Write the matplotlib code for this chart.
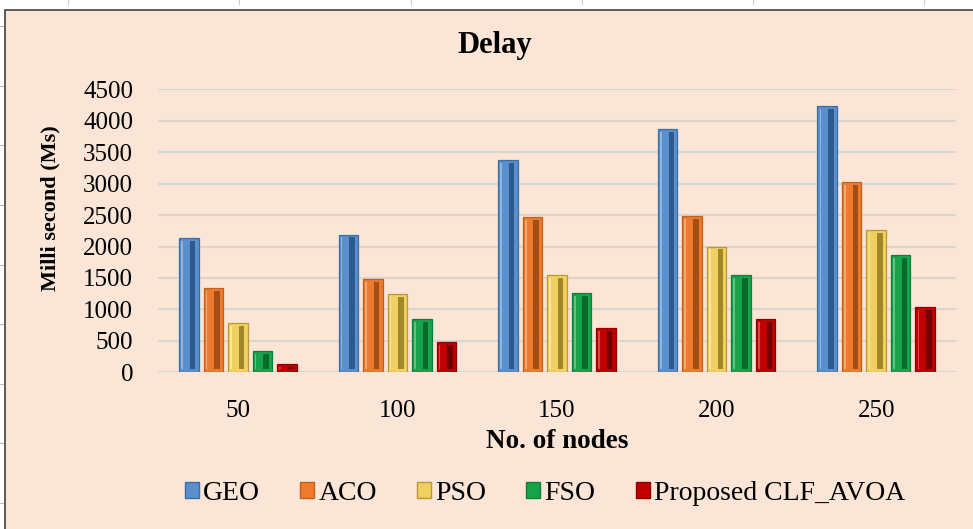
import matplotlib
matplotlib.use("Agg")
import matplotlib.pyplot as plt
from matplotlib.patches import Rectangle, Patch
import numpy as np

categories = ["50", "100", "150", "200", "250"]
series_names = ["GEO", "ACO", "PSO", "FSO", "Proposed CLF_AVOA"]
geo = [2140, 2190, 3380, 3870, 4230]
aco = [1340, 1480, 2470, 2490, 3030]
pso = [780, 1250, 1540, 2000, 2260]
fso = [340, 840, 1260, 1540, 1860]
proposed = [130, 480, 700, 840, 1040]
yticks = [0, 500, 1000, 1500, 2000, 2500, 3000, 3500, 4000, 4500]

series = [geo, aco, pso, fso, proposed]
main_colors = ["#5A8FCB", "#EC7B2E", "#F0D060", "#17A34A", "#C00000"]
dark_colors = ["#2C5A8E", "#A24E16", "#A08828", "#0A6A2C", "#700000"]
light_colors = ["#8DB4E2", "#F5A86E", "#F8E69A", "#5CC583", "#E04040"]
edge_colors = ["#3A6EA8", "#C0601F", "#B89A30", "#0E7F38", "#900000"]

plt.rcParams["font.family"] = ["Liberation Serif", "DejaVu Serif"]
peach = "#FBE5D6"

fig = plt.figure(figsize=(9.73, 5.29), dpi=100, facecolor="white")
bg = Rectangle((5 / 973, -0.01), 1.0, 1 - 10 / 529 + 0.01,
               transform=fig.transFigure, facecolor=peach,
               edgecolor="#404040", linewidth=1.2, zorder=-10)
fig.add_artist(bg)
for yy in np.linspace(0.05, 0.95, 9):
    fig.add_artist(plt.Line2D([0, 3 / 973], [yy, yy], transform=fig.transFigure,
                              color="#bbbbbb", linewidth=0.8, zorder=-5))
for xx in np.linspace(0.07, 0.95, 6):
    fig.add_artist(plt.Line2D([xx, xx], [1 - 4 / 529, 1], transform=fig.transFigure,
                              color="#cccccc", linewidth=0.8, zorder=-5))

ax = fig.add_axes([158 / 973, 1 - 372.3 / 529, (956 - 158) / 973, (372.3 - 89.3) / 529])
ax.set_zorder(5)
ax.set_facecolor("none")

x = np.arange(len(categories))
pitch = 0.1535
w = 0.122
b = 45
for i, (vals, mc, dc, lc, ec) in enumerate(zip(series, main_colors, dark_colors, light_colors, edge_colors)):
    pos = x + (i - 2) * pitch
    vals = np.array(vals, dtype=float)
    ax.bar(pos, vals, width=w, color=mc, edgecolor=ec, linewidth=0.9, zorder=3,
           label=series_names[i])
    inner_h = np.maximum(vals - 2 * b, 0)
    ax.bar(pos + w * 0.19, inner_h, bottom=b, width=w * 0.28, color=dc, linewidth=0, zorder=4)
    ax.bar(pos - w * 0.35, inner_h, bottom=b, width=w * 0.09, color=lc, linewidth=0, zorder=4)

ax.set_xlim(-0.5, 4.5)
ax.set_ylim(0, 4500)
ax.set_yticks(yticks)
ax.set_yticklabels([str(t) for t in yticks], fontsize=18)
ax.set_xticks(x)
ax.set_xticklabels(categories, fontsize=18)
ax.tick_params(axis="both", length=0)
ax.tick_params(axis="x", pad=20)
ax.tick_params(axis="y", pad=18)
ax.grid(axis="y", color="#D9D4D0", linewidth=1.5, zorder=0)
ax.set_axisbelow(True)
for s in ax.spines.values():
    s.set_visible(False)

ax.set_xlabel("No. of nodes", fontsize=19.5, fontweight="bold", labelpad=5)
fig.text(50 / 973, 1 - 208 / 529, "Milli second (Ms)", fontsize=16, fontweight="bold",
         rotation=90, ha="center", va="center")
fig.text(495 / 973, 1 - 45 / 529, "Delay", fontsize=22, fontweight="bold",
         ha="center", va="center")

handles = [Patch(facecolor=mc, edgecolor=ec) for mc, ec in zip(main_colors, edge_colors)]
fig.legend(handles, series_names, loc="center", bbox_to_anchor=(545 / 973, 1 - 493 / 529),
           ncol=5, frameon=False, fontsize=20, handlelength=0.5, handleheight=0.5,
           handletextpad=0.15, columnspacing=1.45)

fig.savefig("out.png", dpi=100, facecolor="white")
